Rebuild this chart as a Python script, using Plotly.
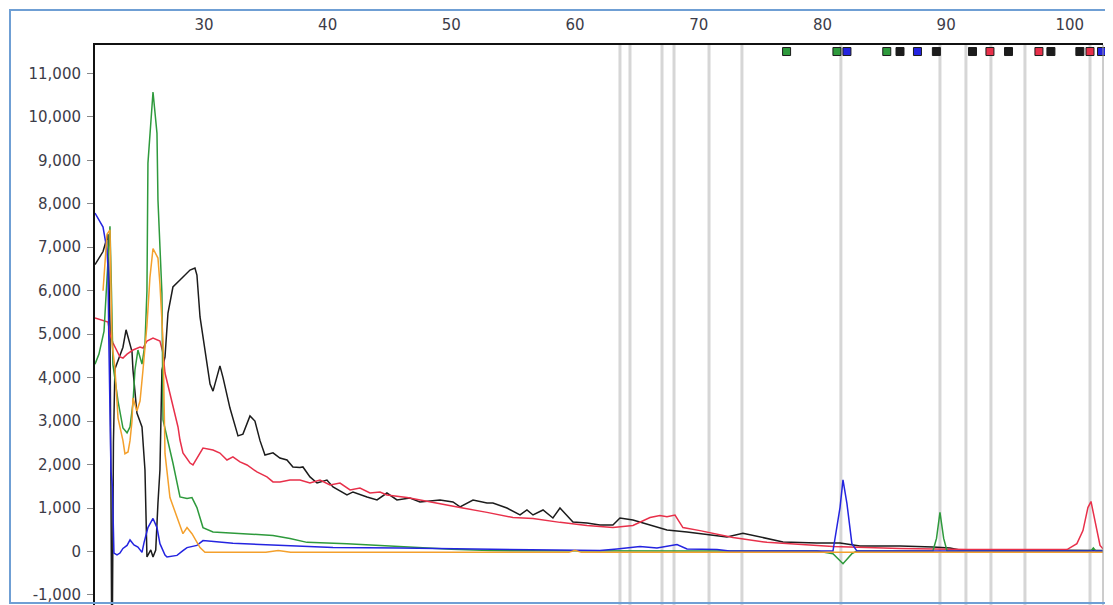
import plotly.graph_objects as go

# ---------------- data (size in bp vs. RFU) ----------------
size_ticks = [30, 40, 50, 60, 70, 80, 90, 100]
rfu_ticks = [-1000, 0, 1000, 2000, 3000, 4000, 5000, 6000, 7000, 8000, 9000, 10000, 11000]
rfu_tick_labels = ["-1,000", "0", "1,000", "2,000", "3,000", "4,000", "5,000",
                   "6,000", "7,000", "8,000", "9,000", "10,000", "11,000"]

black_x = [21.19, 21.84, 22.24, 22.40, 22.48, 22.53, 22.60, 22.68, 22.80, 23.05, 23.45, 23.70, 23.95,
           24.18, 24.26, 24.58, 24.99, 25.23, 25.39, 25.70, 25.88, 26.10, 26.28, 26.44, 26.60, 26.85,
           27.09, 27.49, 28.06, 28.87, 29.27, 29.43, 29.68, 30.08, 30.49, 30.73, 31.29, 31.54, 32.10,
           32.75, 33.15, 33.72, 34.12, 34.53, 34.93, 35.58, 36.14, 36.71, 37.19, 37.76, 38.00, 38.57,
           39.14, 39.94, 40.43, 41.56, 42.05, 43.18, 43.99, 44.79, 45.60, 46.65, 47.46, 49.08, 50.13,
           50.70, 51.75, 52.88, 53.36, 54.49, 55.55, 56.11, 56.60, 57.41, 58.21, 58.78, 59.83, 60.96,
           62.01, 63.06, 63.63, 64.68, 66.06, 67.43, 69.05, 70.91, 72.28, 73.57, 74.95, 76.81, 79.55,
           81.42, 83.03, 86.27, 88.93, 90.31, 91.0, 102.68]
black_y = [6600, 6900, 7300, 5200, 1500, -1400, -1400, 2500, 4200, 4400, 4700, 5100, 4860,
           4600, 4175, 3185, 2865, 1875, -125, 35, -125, 35, 1115, 1875, 4175, 4475,
           5485, 6085, 6245, 6475, 6520, 6360, 5395, 4600, 3850, 3690, 4270, 4000, 3300,
           2660, 2700, 3120, 3000, 2550, 2220, 2270, 2150, 2105, 1945, 1930, 1945, 1715,
           1575, 1645, 1485, 1300, 1370, 1255, 1185, 1345, 1185, 1230, 1140, 1185, 1140,
           1025, 1185, 1115, 1115, 1000, 840, 955, 840, 955, 770, 1000, 680, 655,
           610, 610, 770, 725, 610, 495, 450, 380, 335, 420, 335, 220, 195,
           195, 125, 125, 105, 80, 40, 20]

red_x = [21.19, 22.0, 22.24, 22.40, 22.64, 23.21, 23.45, 23.78, 24.26, 24.83, 25.07, 25.39, 25.88,
         26.44, 26.69, 26.85, 27.25, 27.90, 28.06, 28.30, 28.87, 29.11, 29.92, 30.73, 31.29, 31.86,
         32.34, 32.91, 33.48, 34.28, 35.09, 35.58, 36.14, 36.95, 37.76, 38.57, 39.38, 40.19, 41.0,
         41.81, 42.61, 43.42, 44.23, 44.79, 46.41, 48.51, 50.70, 52.88, 54.98, 56.60, 58.78, 60.96,
         63.06, 64.68, 66.06, 66.86, 67.43, 68.08, 68.72, 70.10, 72.76, 75.51, 78.18, 80.85, 86.27,
         91.68, 99.77, 100.57, 101.06, 101.46, 101.71, 102.03, 102.44, 102.68]
red_y = [5370, 5300, 5280, 5000, 4800, 4475, 4450, 4540, 4635, 4705, 4680, 4840, 4910,
         4840, 4565, 4105, 3645, 2865, 2565, 2265, 2035, 1990, 2380, 2335, 2265, 2105,
         2175, 2060, 1990, 1830, 1715, 1600, 1600, 1645, 1645, 1575, 1645, 1530, 1575,
         1415, 1460, 1345, 1370, 1300, 1240, 1120, 1010, 900, 780, 760, 670, 600,
         550, 600, 780, 830, 800, 840, 550, 480, 320, 210, 160, 115, 70,
         45, 45, 180, 480, 1010, 1150, 710, 140, 60]

green_x = [21.19, 21.51, 21.92, 22.24, 22.40, 22.52, 22.64, 23.05, 23.45, 23.78, 24.02, 24.26, 24.42,
           24.66, 24.99, 25.23, 25.39, 25.47, 25.80, 25.88, 26.20, 26.28, 26.60, 26.69, 27.49, 28.06,
           28.63, 29.03, 29.43, 29.92, 30.73, 32.91, 35.58, 36.95, 38.33, 41.56, 44.23, 47.0, 50.0,
           53.12, 60.0, 70.0, 79.55, 80.85, 81.66, 82.38, 82.79, 88.93, 89.22, 89.50, 89.80, 90.07,
           101.7, 101.9, 102.1, 102.68]
green_y = [4310, 4540, 5070, 6500, 7480, 6000, 4300, 3460, 2840, 2730, 2865, 3415, 4175,
           4635, 4310, 4770, 6000, 8935, 10385, 10570, 9625, 8085, 5945, 3025, 2035, 1255,
           1220, 1240, 1010, 550, 450, 410, 370, 300, 210, 180, 140, 90, 50,
           20, 10, 10, 10, -50, -280, -50, 10, 10, 300, 900, 300, 10,
           10, 80, 10, 10]

blue_x = [21.19, 21.51, 21.84, 22.16, 22.24, 22.30, 22.40, 22.48, 22.60, 22.66, 22.72, 22.97, 23.21,
          23.45, 23.78, 24.02, 24.34, 24.66, 24.99, 25.15, 25.47, 25.88, 26.20, 26.44, 26.85, 27.01,
          27.82, 28.30, 28.63, 29.43, 29.92, 32.34, 35.09, 37.76, 40.43, 45.84, 53.0, 57.0, 62.01,
          63.39, 65.25, 66.62, 68.24, 69.05, 71.47, 72.5, 80.85, 81.42, 81.66, 81.98, 82.38, 82.79,
          102.68]
blue_y = [7785, 7625, 7465, 6935, 6520, 5025, 3485, 1860, 1485, 180, -35, -80, -35,
          70, 140, 265, 150, 100, -20, 200, 550, 760, 550, 180, -80, -125,
          -90, 20, 90, 140, 250, 190, 160, 115, 90, 80, 50, 30, 20,
          60, 115, 80, 160, 60, 45, 10, 10, 1010, 1650, 1100, 180, 10,
          10]

orange_x = [21.84, 22.16, 22.40, 22.56, 22.80, 23.05, 23.45, 23.61, 23.86, 24.02, 24.18, 24.26, 24.58,
            24.83, 25.07, 25.39, 25.63, 25.88, 26.28, 26.44, 26.69, 26.85, 27.25, 27.90, 28.30, 28.63,
            29.03, 29.68, 30.08, 35.0, 36.0, 37.0, 59.5, 60.0, 60.5, 102.68]
orange_y = [6000, 7300, 7400, 4800, 4220, 3070, 2550, 2250, 2290, 2550, 3000, 3530, 3230,
            3460, 4175, 5200, 6300, 6970, 6750, 6150, 4840, 2250, 1240, 710, 410, 550,
            410, 90, -20, -20, 20, -20, -20, 30, -20, -20]

bin_lines = [63.63, 64.44, 67.03, 68.0, 70.83, 73.49, 81.49, 89.5, 91.6, 93.62, 96.37, 101.63]

peak_label_x = [77.1, 81.17, 81.98, 85.2, 86.27, 87.68, 89.21, 92.13, 93.54, 95.04,
                97.5, 98.47, 100.81, 101.63, 102.56]
peak_label_dye = ["green", "green", "blue", "green", "black", "blue", "black", "black",
                  "red", "black", "red", "black", "black", "red", "blue"]

# ---------------- styling ----------------
X_RANGE = [21.19, 102.68]
Y_RANGE = [-1231, 11652]
dye_colors = {"black": "#1c1c1c", "red": "#e8304a", "green": "#2e9a3c",
              "blue": "#2424e0", "orange": "#f4a02c"}
FONT = "DejaVu Sans, Liberation Sans, sans-serif"
LABEL_COLOR = "#3c3c48"

fig = go.Figure()

series = [
    ("black", black_x, black_y),
    ("red", red_x, red_y),
    ("green", green_x, green_y),
    ("blue", blue_x, blue_y),
    ("orange", orange_x, orange_y),
]
for name, xs, ys in series:
    fig.add_trace(go.Scatter(x=xs, y=ys, mode="lines", name=name,
                             line=dict(color=dye_colors[name], width=1.5),
                             showlegend=False, hoverinfo="skip"))

marker_y = Y_RANGE[1] - 150
fig.add_trace(go.Scatter(
    x=peak_label_x, y=[marker_y] * len(peak_label_x), mode="markers",
    marker=dict(symbol="square", size=8,
                color=[dye_colors[d] for d in peak_label_dye],
                line=dict(color="#1c1c1c", width=1)),
    showlegend=False, hoverinfo="skip", cliponaxis=False))

# page is rendered with an 8px body margin: compensate so the plot lands where the reference has it
OFF = 8
PAGE_W, PAGE_H = 1113, 605
W, H = PAGE_W - OFF, PAGE_H - OFF
L, R, T, B = 95 - OFF, 10, 45 - OFF, 0
pw, ph = W - L - R, H - T - B

def page_x_to_paper(px):
    return (px - OFF - L) / pw

def page_y_to_paper(py):
    return (H - B - (py - OFF)) / ph

shapes = []
for bx in bin_lines:
    shapes.append(dict(type="line", xref="x", yref="paper", x0=bx, x1=bx, y0=0, y1=1,
                       line=dict(color="#d6d6d6", width=3), layer="below"))
# right border of plot
shapes.append(dict(type="line", xref="paper", yref="paper", x0=1, x1=1, y0=0, y1=1,
                   line=dict(color="#9a9a9a", width=1)))
# outer light-blue frame
shapes.append(dict(type="rect", xref="paper", yref="paper",
                   x0=page_x_to_paper(10), x1=page_x_to_paper(1110),
                   y0=page_y_to_paper(603), y1=page_y_to_paper(10),
                   line=dict(color="#6f9fd4", width=2), fillcolor="rgba(0,0,0,0)"))

fig.update_layout(
    width=W, height=H,
    margin=dict(l=L, r=R, t=T, b=B, pad=0, autoexpand=False),
    paper_bgcolor="white", plot_bgcolor="white",
    font=dict(family=FONT, size=15, color=LABEL_COLOR),
    shapes=shapes,
    xaxis=dict(range=X_RANGE, side="top", tickvals=size_ticks, showgrid=False,
               zeroline=False, showline=True, linecolor="#111111", linewidth=2,
               ticks="", tickfont=dict(size=15, color=LABEL_COLOR), ticklabelstandoff=7,
               automargin=False),
    yaxis=dict(range=Y_RANGE, tickvals=rfu_ticks, ticktext=rfu_tick_labels, showgrid=False,
               zeroline=False, showline=True, linecolor="#111111", linewidth=2,
               ticks="outside", ticklen=6, tickcolor="#888888", tickwidth=1,
               tickfont=dict(size=15, color=LABEL_COLOR), ticklabelstandoff=3,
               automargin=False),
)

fig.write_html("out.html")
